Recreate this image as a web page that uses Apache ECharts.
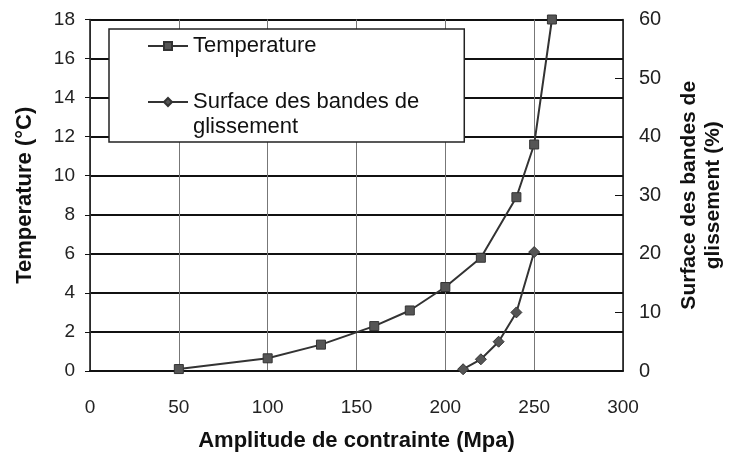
<!DOCTYPE html>
<html>
<head>
<meta charset="utf-8">
<script src="https://cdn.jsdelivr.net/npm/echarts@6/dist/echarts.min.js"></script>
<style>
  html, body { margin: 0; padding: 0; background: #fff; }
  #chart { width: 729px; height: 459px; }
</style>
</head>
<body>
<div id="chart"></div>
<script>
// amplitude (MPa) and temperature rise (°C)
const stress = [50, 100, 130, 160, 180, 200, 220, 240, 250, 260];
const temperature = [0.1, 0.65, 1.35, 2.3, 3.1, 4.3, 5.8, 8.9, 11.6, 18];
// amplitude (MPa) and slip band surface (%)
const surfStress = [210, 220, 230, 240, 250];
const surface = [0.3, 2, 5, 10, 20.3];

const font = 'Liberation Sans, Arial, sans-serif';
const surfName = 'Surface des bandes de\nglissement';

let chart = echarts.init(document.getElementById('chart'));
chart.setOption({
  backgroundColor: '#fff',
  animation: false,
  textStyle: { fontFamily: font },
  grid: { left: 90, right: 106, top: 19.5, bottom: 88, containLabel: false, outerBoundsMode: 'none' },
  legend: {
    orient: 'vertical',
    left: 109,
    top: 29,
    padding: [4.5, 45, 2.5, 38],
    itemGap: 6,
    itemWidth: 40,
    itemHeight: 10,
    backgroundColor: '#fff',
    borderColor: '#222',
    borderWidth: 1.5,
    textStyle: { fontSize: 22, color: '#111', lineHeight: 25 },
    // leading blank line keeps the icon level with the first text line
    formatter: name => (name === surfName ? '\n' + name : name),
    data: ['Temperature', surfName]
  },
  xAxis: {
    type: 'value',
    min: 0,
    max: 300,
    interval: 50,
    name: 'Amplitude de contrainte (Mpa)',
    nameLocation: 'middle',
    nameGap: 59,
    nameTextStyle: { fontSize: 22, fontWeight: 'bold', color: '#111' },
    axisLine: { show: true, lineStyle: { color: '#111', width: 2 } },
    axisTick: { show: false },
    axisLabel: { fontSize: 19, color: '#222', margin: 27 },
    splitLine: { show: true, lineStyle: { color: '#777', width: 1 } }
  },
  yAxis: [
    {
      type: 'value',
      min: 0,
      max: 18,
      interval: 2,
      name: 'Temperature (°C)',
      nameLocation: 'middle',
      nameGap: 54,
      nameTextStyle: { fontSize: 22, fontWeight: 'bold', color: '#111' },
      axisLine: { show: true, lineStyle: { color: '#111', width: 1.5 } },
      axisTick: { show: true, length: 5, lineStyle: { color: '#111' } },
      axisLabel: { fontSize: 19, color: '#222', margin: 15 },
      splitLine: { show: true, lineStyle: { color: '#111', width: 2 } }
    },
    {
      type: 'value',
      position: 'right',
      min: 0,
      max: 60,
      interval: 10,
      name: 'Surface des bandes de\nglissement (%)',
      nameLocation: 'middle',
      nameRotate: 90,
      nameGap: 54,
      nameTextStyle: { fontSize: 21, fontWeight: 'bold', color: '#111', lineHeight: 24 },
      axisLine: { show: true, lineStyle: { color: '#111', width: 1.5 } },
      axisTick: { show: true, inside: true, length: 8, lineStyle: { color: '#111' } },
      axisLabel: { fontSize: 20, color: '#222', margin: 16 },
      splitLine: { show: false }
    }
  ],
  series: [
    {
      name: 'Temperature',
      type: 'line',
      yAxisIndex: 0,
      data: stress.map((s, i) => [s, temperature[i]]),
      symbol: 'rect',
      symbolSize: 9,
      lineStyle: { color: '#333', width: 2 },
      itemStyle: { color: '#555', borderColor: '#333', borderWidth: 1 }
    },
    {
      name: surfName,
      type: 'line',
      yAxisIndex: 1,
      data: surfStress.map((s, i) => [s, surface[i]]),
      symbol: 'diamond',
      symbolSize: 11,
      lineStyle: { color: '#333', width: 2 },
      itemStyle: { color: '#555', borderColor: '#333', borderWidth: 1 }
    }
  ]
});
</script>
</body>
</html>
